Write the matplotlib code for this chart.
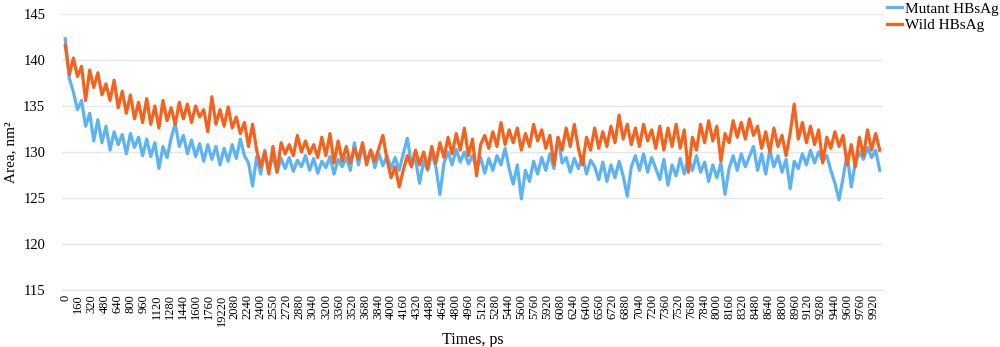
import numpy as np
import matplotlib
matplotlib.use("Agg")
from matplotlib import pyplot as plt


# time axis, one reading every 50 ps
times = np.arange(0, 10001, 50)

mutant = [
    142.3, 138.0, 136.5, 134.6, 135.6, 132.8, 134.2, 131.2, 133.5, 131.0,
    132.8, 130.2, 132.2, 130.8, 131.9, 129.8, 132.0, 130.5, 131.6, 129.6,
    131.4, 129.5, 131.0, 128.2, 130.6, 129.4, 131.5, 133.1, 130.6, 131.8,
    129.8, 131.3, 129.5, 130.9, 129.0, 130.8, 129.2, 130.6, 128.6, 130.4,
    129.0, 130.8, 129.3, 131.4, 129.6, 128.8, 126.3, 129.5, 127.6, 130.2,
    128.0, 129.6, 127.8, 129.3, 128.2, 129.4, 127.9, 129.1, 128.4, 129.6,
    128.0, 129.3, 127.7, 129.0, 128.3, 129.5, 127.6, 129.2, 128.4, 129.4,
    128.0, 131.0, 128.6, 130.6, 128.9, 130.2, 128.3, 129.8, 128.5, 129.6,
    128.2, 129.4, 128.0, 129.8, 131.5, 128.6, 129.2, 126.6, 129.0, 128.0,
    129.8, 128.4, 125.4, 128.8, 130.0, 128.6, 130.3, 128.9, 130.0, 128.7,
    129.6, 128.2, 129.4, 127.7, 129.3, 128.0, 129.6, 128.6, 130.4, 128.2,
    126.5, 128.6, 124.9, 128.0, 126.8, 129.0, 127.6, 129.4, 128.0, 129.8,
    128.2, 131.6, 128.8, 129.4, 127.8, 129.3, 128.2, 129.6, 127.6, 129.1,
    128.4, 127.0, 128.9, 126.8, 128.6, 127.2, 129.0, 127.4, 125.2, 128.4,
    129.6, 128.0, 129.8, 127.8, 129.4, 128.2, 127.0, 129.2, 126.4, 128.6,
    127.4, 129.3, 127.6, 129.4, 128.0, 129.6, 127.8, 128.9, 126.8, 128.6,
    127.2, 128.8, 125.4, 128.2, 129.6, 128.0, 129.8, 128.4, 129.5, 130.6,
    128.0, 129.8, 127.6, 130.2, 128.4, 129.6, 127.8, 129.2, 126.0, 129.0,
    128.2, 129.8, 128.6, 130.2, 128.8, 130.0, 129.0, 129.6, 128.0, 126.6,
    124.8, 127.2, 129.8, 126.2, 128.8, 130.0, 129.2, 130.5, 129.4, 130.2,
    128.0,
]

wild = [
    141.6, 138.4, 140.2, 138.2, 139.3, 135.6, 138.9, 137.0, 138.6, 136.2,
    137.4, 135.6, 137.8, 134.8, 136.6, 134.2, 136.2, 133.6, 135.4, 133.2,
    135.8, 133.0, 135.0, 132.6, 135.6, 133.4, 134.8, 133.0, 135.4, 133.6,
    135.2, 133.2, 135.0, 133.8, 134.6, 132.2, 136.0, 133.0, 134.6, 132.8,
    134.9, 132.6, 133.8, 132.0, 133.2, 130.6, 133.0, 130.2, 128.4, 130.0,
    127.6, 130.6, 127.8, 131.0, 129.8, 130.8, 129.6, 131.8, 130.0, 131.2,
    129.8, 130.8, 129.4, 131.6, 129.6, 132.0, 128.8, 131.2, 129.0, 130.6,
    128.8, 130.4, 129.2, 131.0, 128.6, 130.2, 129.0, 130.4, 131.8, 129.2,
    127.2, 128.4, 126.2, 128.0, 129.6, 128.4, 130.2, 128.6, 130.0, 128.2,
    130.6, 128.8, 131.0, 129.4, 131.6, 129.8, 132.0, 130.2, 132.6, 129.6,
    131.4, 127.4, 130.8, 131.8, 130.4, 132.2, 130.6, 133.2, 130.8, 132.4,
    131.0, 132.6, 130.2, 132.0, 130.6, 133.0, 131.2, 132.4, 130.4, 131.8,
    128.6, 131.6, 130.2, 132.6, 130.6, 133.0, 130.4, 128.6, 131.6, 130.2,
    132.6, 130.4, 132.2, 130.6, 132.8, 131.0, 134.0, 131.4, 133.0, 130.8,
    132.6, 130.6, 133.0, 131.2, 132.4, 130.4, 132.8, 130.2, 132.6, 130.6,
    133.0, 130.4, 132.4, 127.8, 131.6, 130.2, 133.0, 131.0, 133.4, 131.2,
    132.8, 129.0, 132.0, 131.0, 133.4, 131.6, 133.2, 131.4, 133.6, 131.8,
    132.8, 130.4, 132.2, 130.0, 132.6, 130.6, 131.8, 129.6, 132.0, 135.2,
    131.4, 133.2, 131.0, 132.8, 130.8, 132.4, 128.8, 131.6, 130.4, 132.2,
    130.6, 131.8, 128.6, 130.8, 128.4, 131.6, 129.6, 132.4, 130.2, 132.0,
    130.2,
]

# tick labels as printed on the original axis (typos kept)
tick_pos = np.arange(0, 9921, 160)
tick_labels = ["0", "160", "320", "480", "640", "800", "960", "1120", "1280",
               "1440", "1600", "1760", "19220", "2080", "2240", "2400", "2550",
               "2720", "2880", "3040", "3200", "3360", "3520", "3680", "3840",
               "4000", "4160", "4320", "4480", "4640", "4800", "4960", "5120",
               "5280", "5440", "5600", "5760", "5920", "6080", "6240", "6400",
               "6560", "6720", "6880", "7040", "7200", "7360", "7520", "7680",
               "7840", "8000", "8160", "8320", "8480", "8640", "8800", "8960",
               "9120", "9280", "9440", "9600", "9760", "9920"]

plt.rcParams['font.family'] = ['Liberation Serif', 'DejaVu Serif']

fig = plt.figure(figsize=(10, 3.47), dpi=100)
ax = fig.add_axes([0.062, 0.164, 0.821, 0.796])

ax.plot(times, mutant, color="#5CB3F4", lw=2.3, label="Mutant HBsAg")
ax.plot(times, wild, color="#F5621B", lw=2.3, label="Wild HBsAg")

ax.set_ylim(115, 145)
ax.set_yticks(np.arange(115, 146, 5))
ax.set_xlim(-40, 10040)
ax.set_xticks(tick_pos)
ax.set_xticklabels(tick_labels, rotation=90, fontsize=9)
ax.tick_params(axis="both", length=0, pad=3)
ax.tick_params(axis="y", labelsize=10.5, pad=12)

ax.grid(axis="y", color="#E2E8EA", lw=1)
ax.set_axisbelow(True)
for s in ["top", "right", "left"]:
    ax.spines[s].set_visible(False)
ax.spines["bottom"].set_color("#E2E8EA")

ax.set_ylabel("Area, nm²", fontsize=11, labelpad=4)
ax.set_xlabel("Times, ps", fontsize=11.5, labelpad=5)

ax.legend(loc="upper left", bbox_to_anchor=(0.997, 1.065), frameon=False,
          handlelength=1.0, handletextpad=0.2, fontsize=11, labelspacing=0.2,
          borderaxespad=0)

fig.savefig("out.png", dpi=100)
